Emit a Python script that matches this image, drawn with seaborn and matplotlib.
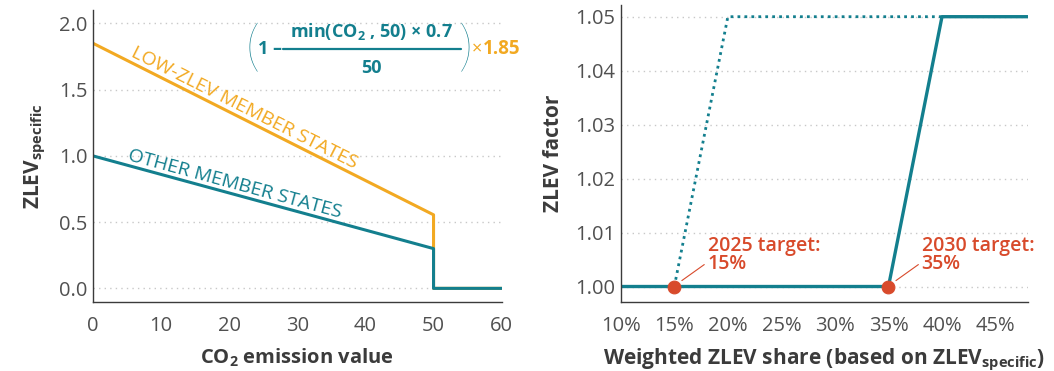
import matplotlib
matplotlib.use("Agg")
import matplotlib.pyplot as plt
import seaborn as sns
from matplotlib.ticker import FuncFormatter

# Left panel: ZLEV_specific vs CO2 emission value
co2_x = [0, 50, 50, 60]
other_y = [1.0, 0.3, 0.0, 0.0]
low_zlev_y = [1.85, 0.555, 0.0, 0.0]

# Right panel: ZLEV factor vs weighted ZLEV share
share_2030 = [10, 35, 40, 48]
factor_2030 = [1.00, 1.00, 1.05, 1.05]
share_2025 = [15, 20, 40]
factor_2025 = [1.00, 1.05, 1.05]
target_share = [15, 35]
target_factor = [1.00, 1.00]
target_labels = ["2025 target:\n15%", "2030 target:\n35%"]

left_xticks = [0, 10, 20, 30, 40, 50, 60]
left_yticks = [0.0, 0.5, 1.0, 1.5, 2.0]
right_xticks = [10, 15, 20, 25, 30, 35, 40, 45]
right_yticks = [1.00, 1.01, 1.02, 1.03, 1.04, 1.05]

TEAL = "#137f8e"
ORANGE = "#f2a922"
RED = "#d84a2b"
DARK = "#3b3b3b"
TICK = "#505050"
FONT = 'Open Sans'

sns.set_theme(style="white")
plt.rcParams['font.family'] = [FONT, 'DejaVu Sans']
plt.rcParams['mathtext.fontset'] = 'custom'
plt.rcParams['mathtext.rm'] = f'{FONT}:bold'
plt.rcParams['mathtext.it'] = f'{FONT}:bold'
plt.rcParams['mathtext.bf'] = f'{FONT}:bold'

fig = plt.figure(figsize=(10.54, 3.71), dpi=100)
ax1 = fig.add_axes([0.088, 0.187, 0.388, 0.786])
ax2 = fig.add_axes([0.589, 0.187, 0.386, 0.800])


def style_axes(ax):
    sns.despine(ax=ax)
    for s in ['left', 'bottom']:
        ax.spines[s].set_color(DARK)
        ax.spines[s].set_linewidth(1.0)
    ax.yaxis.grid(True, linestyle=(0, (1, 3)), color="#c8c8c8", linewidth=1.0)
    ax.xaxis.grid(False)
    ax.set_axisbelow(True)
    ax.tick_params(length=0, labelsize=14.5, labelcolor=TICK)
    ax.tick_params(axis='x', pad=10)
    ax.tick_params(axis='y', pad=4)


# Left panel
sns.lineplot(x=co2_x, y=low_zlev_y, sort=False, estimator=None, color=ORANGE,
             linewidth=2.2, ax=ax1)
sns.lineplot(x=co2_x, y=other_y, sort=False, estimator=None, color=TEAL,
             linewidth=2.2, ax=ax1)
ax1.set_xlim(0, 60)
ax1.set_ylim(-0.1, 2.1)
ax1.set_xticks(left_xticks)
ax1.set_yticks(left_yticks)
ax1.yaxis.set_major_formatter(FuncFormatter(lambda v, p: f"{v:.1f}"))
style_axes(ax1)
ax1.set_xlabel("CO$_2$ emission value", fontsize=14.5, fontweight='bold',
               color=DARK, labelpad=8)
ax1.set_ylabel("ZLEV$_{\\mathregular{specific}}$", fontsize=15,
               fontweight='bold', color=DARK, labelpad=8)

ax1.text(22.3, 1.36, "LOW-ZLEV MEMBER STATES", color=ORANGE, fontsize=14,
         rotation=-26.7, rotation_mode='anchor', ha='center', va='center')
ax1.text(20.9, 0.785, "OTHER MEMBER STATES", color=TEAL, fontsize=14,
         rotation=-15.2, rotation_mode='anchor', ha='center', va='center')

# Formula: (1 - min(CO2, 50) x 0.7 / 50) x 1.85
ft = ax1.transAxes
for px, ch in [(0.391, "("), (0.912, ")")]:
    ax1.text(px, 0.862, ch, transform=ft, color=TEAL, fontsize=40,
             family=['Lato', 'DejaVu Sans'], fontweight='light',
             ha='center', va='center')
ax1.text(0.434, 0.866, "1 –", transform=ft, color=TEAL, fontsize=13,
         fontweight='bold', ha='center', va='center')
ax1.text(0.682, 0.925, "min(CO$_2$ , 50) × 0.7", transform=ft, color=TEAL,
         fontsize=13, fontweight='bold', ha='center', va='center')
ax1.text(0.682, 0.802, "50", transform=ft, color=TEAL, fontsize=13,
         fontweight='bold', ha='center', va='center')
ax1.plot([0.465, 0.901], [0.866, 0.866], transform=ft, color=TEAL, lw=1.6,
         clip_on=False)
ax1.text(0.926, 0.866, "×", transform=ft, color=ORANGE, fontsize=13,
         ha='left', va='center')
ax1.text(0.955, 0.866, "1.85", transform=ft, color=ORANGE, fontsize=13.5,
         fontweight='bold', ha='left', va='center')

# Right panel
sns.lineplot(x=share_2025, y=factor_2025, sort=False, estimator=None,
             color=TEAL, linewidth=2.0, linestyle=(0, (1, 1.5)), ax=ax2)
sns.lineplot(x=share_2030, y=factor_2030, sort=False, estimator=None,
             color=TEAL, linewidth=2.4, ax=ax2)
sns.scatterplot(x=target_share, y=target_factor, color=RED, s=85,
                edgecolor=RED, zorder=5, clip_on=False, ax=ax2)
ax2.set_xlim(10, 48)
ax2.set_ylim(0.9972, 1.0522)
ax2.set_xticks(right_xticks)
ax2.set_yticks(right_yticks)
ax2.xaxis.set_major_formatter(FuncFormatter(lambda v, p: f"{v:.0f}%"))
ax2.yaxis.set_major_formatter(FuncFormatter(lambda v, p: f"{v:.2f}"))
style_axes(ax2)
ax2.set_xlabel("Weighted ZLEV share (based on ZLEV$_{\\mathregular{specific}}$)",
               fontsize=15, fontweight='bold', color=DARK, labelpad=8)
ax2.set_ylabel("ZLEV factor", fontsize=15, fontweight='bold', color=DARK,
               labelpad=8)

for xs, lab in zip(target_share, target_labels):
    ax2.annotate(lab, xy=(xs + 0.7, 1.0011), xytext=(xs + 3.1, 1.0024),
                 color=RED, fontsize=14, fontweight='semibold',
                 ha='left', va='bottom', linespacing=0.85,
                 arrowprops=dict(arrowstyle='-', color=RED, lw=0.8,
                                 shrinkA=0, shrinkB=0,
                                 relpos=(0, 0.3)))

fig.savefig("out.png", dpi=100)
